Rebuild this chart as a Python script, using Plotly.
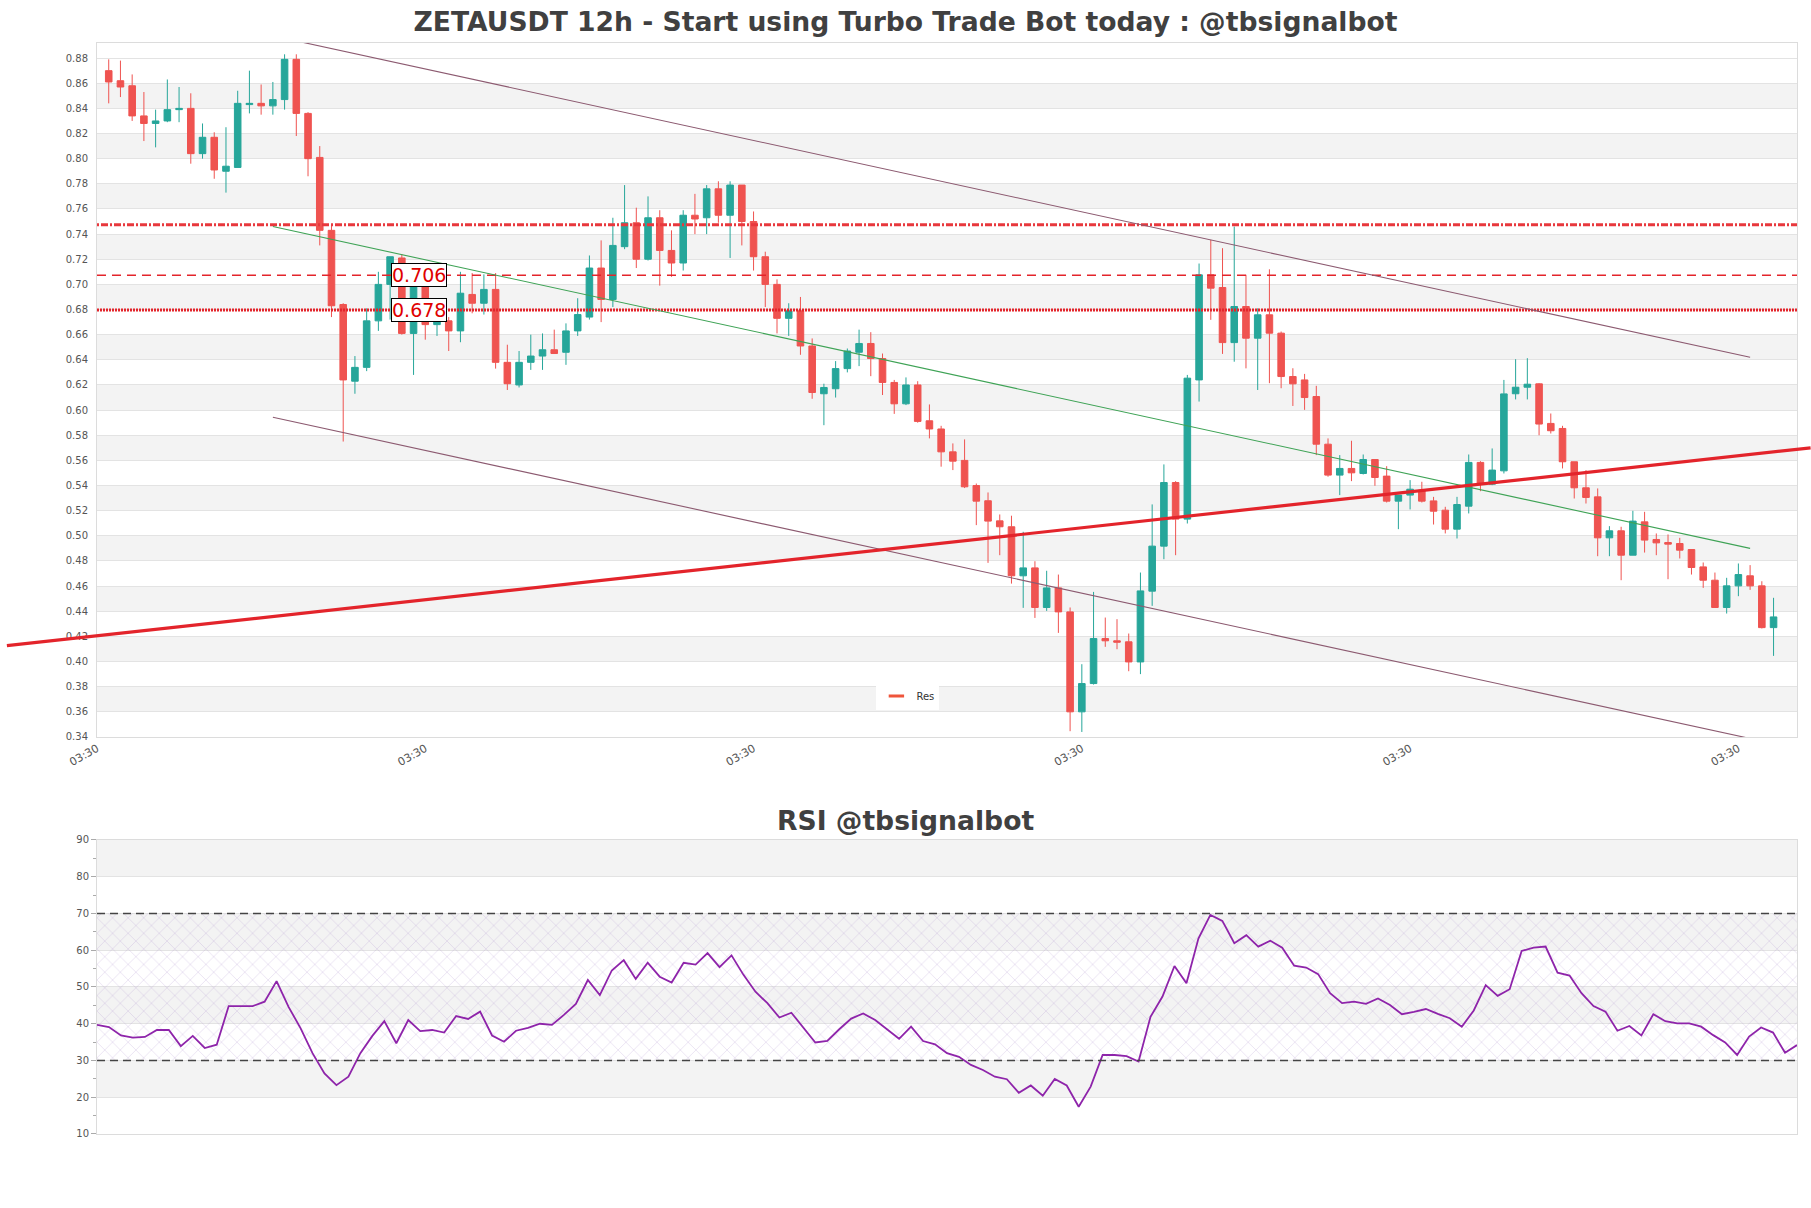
import numpy as np
import pandas as pd
import plotly.graph_objects as go

# ---------------- data ----------------
first_candle = pd.Timestamp("2024-12-10 15:30")
n_candles = 143
dates = pd.date_range(first_candle, periods=n_candles, freq="12h")

opens = [
    0.870, 0.862, 0.858, 0.834, 0.828, 0.830, 0.839, 0.840, 0.804, 0.817,
    0.790, 0.793, 0.843, 0.844, 0.842, 0.847, 0.879, 0.836, 0.801, 0.743,
    0.684, 0.623, 0.634, 0.671, 0.700, 0.721, 0.661, 0.705, 0.668, 0.671,
    0.663, 0.692, 0.685, 0.696, 0.638, 0.620, 0.638, 0.643, 0.648, 0.646,
    0.663, 0.674, 0.713, 0.688, 0.730, 0.749, 0.720, 0.753, 0.727, 0.717,
    0.755, 0.753, 0.776, 0.755, 0.779, 0.750, 0.722, 0.700, 0.673, 0.679,
    0.651, 0.613, 0.617, 0.633, 0.646, 0.653, 0.641, 0.622, 0.605, 0.620,
    0.5915, 0.585, 0.5668, 0.560, 0.540, 0.5279, 0.5119, 0.5072, 0.4682, 0.4745,
    0.443, 0.4586, 0.4395, 0.360, 0.3825, 0.4183, 0.4165, 0.4157, 0.3997, 0.456,
    0.4918, 0.5424, 0.5133, 0.624, 0.7076, 0.6975, 0.6537, 0.6824, 0.6572, 0.6758,
    0.6612, 0.6267, 0.624, 0.6108, 0.5729, 0.5483, 0.5536, 0.5496, 0.5607, 0.5475,
    0.5276, 0.5324, 0.5363, 0.5278, 0.5204, 0.5053, 0.5236, 0.5584, 0.5411, 0.5517,
    0.613, 0.6182, 0.6209, 0.5894, 0.5854, 0.5589, 0.5382, 0.531, 0.4984, 0.504,
    0.4846, 0.5111, 0.4971, 0.4947, 0.4939, 0.4891, 0.4753, 0.4647, 0.443, 0.4602,
    0.4682, 0.4602, 0.427,
]
highs = [
    0.879, 0.878, 0.867, 0.853, 0.839, 0.863, 0.857, 0.852, 0.828, 0.821,
    0.825, 0.854, 0.870, 0.859, 0.861, 0.883, 0.883, 0.837, 0.810, 0.747,
    0.685, 0.643, 0.681, 0.710, 0.722, 0.724, 0.712, 0.707, 0.676, 0.674,
    0.710, 0.709, 0.708, 0.709, 0.652, 0.647, 0.660, 0.661, 0.664, 0.669,
    0.689, 0.723, 0.735, 0.753, 0.779, 0.761, 0.770, 0.759, 0.743, 0.759,
    0.772, 0.779, 0.782, 0.782, 0.779, 0.758, 0.726, 0.704, 0.685, 0.690,
    0.657, 0.621, 0.639, 0.649, 0.664, 0.662, 0.645, 0.624, 0.626, 0.623,
    0.6045, 0.5875, 0.5735, 0.5767, 0.5416, 0.5345, 0.517, 0.516, 0.5032, 0.4798,
    0.4722, 0.4692, 0.443, 0.3979, 0.4554, 0.435, 0.4337, 0.4223, 0.4708, 0.525,
    0.5568, 0.5435, 0.628, 0.7166, 0.7354, 0.7288, 0.746, 0.7076, 0.681, 0.712,
    0.6625, 0.6333, 0.6288, 0.6193, 0.5775, 0.5642, 0.5756, 0.5647, 0.5607, 0.5554,
    0.5324, 0.5443, 0.543, 0.531, 0.5231, 0.531, 0.5647, 0.5594, 0.5695, 0.624,
    0.6405, 0.6413, 0.6214, 0.5973, 0.5875, 0.5589, 0.5523, 0.5377, 0.5077, 0.5072,
    0.5199, 0.5191, 0.5019, 0.5011, 0.4984, 0.4891, 0.4788, 0.4708, 0.4666, 0.478,
    0.4767, 0.4639, 0.4507,
]
lows = [
    0.844, 0.849, 0.830, 0.814, 0.809, 0.829, 0.829, 0.796, 0.800, 0.784,
    0.773, 0.793, 0.836, 0.835, 0.835, 0.839, 0.818, 0.786, 0.731, 0.674,
    0.575, 0.613, 0.631, 0.663, 0.672, 0.660, 0.628, 0.656, 0.659, 0.647,
    0.654, 0.677, 0.676, 0.633, 0.616, 0.618, 0.632, 0.632, 0.645, 0.636,
    0.659, 0.672, 0.670, 0.682, 0.728, 0.713, 0.719, 0.699, 0.706, 0.711,
    0.740, 0.740, 0.749, 0.721, 0.731, 0.711, 0.682, 0.661, 0.659, 0.644,
    0.609, 0.588, 0.610, 0.630, 0.635, 0.627, 0.612, 0.597, 0.604, 0.590,
    0.5775, 0.555, 0.5523, 0.538, 0.5085, 0.4785, 0.4846, 0.462, 0.4427, 0.4347,
    0.4403, 0.4228, 0.3446, 0.344, 0.3817, 0.4117, 0.4098, 0.3923, 0.390, 0.4443,
    0.4814, 0.4846, 0.5098, 0.6068, 0.6718, 0.6447, 0.6385, 0.6332, 0.616, 0.6214,
    0.6174, 0.6033, 0.6002, 0.5642, 0.547, 0.5324, 0.5435, 0.5488, 0.5398, 0.5265,
    0.5053, 0.521, 0.5265, 0.509, 0.5019, 0.4979, 0.5178, 0.5355, 0.5403, 0.5496,
    0.6085, 0.6085, 0.580, 0.5814, 0.5536, 0.5297, 0.5257, 0.4838, 0.4838, 0.4647,
    0.4846, 0.4867, 0.4846, 0.4655, 0.482, 0.4692, 0.4586, 0.443, 0.4382, 0.452,
    0.457, 0.4263, 0.4045,
]
closes = [
    0.861, 0.857, 0.834, 0.828, 0.830, 0.839, 0.840, 0.804, 0.817, 0.791,
    0.794, 0.844, 0.844, 0.842, 0.847, 0.879, 0.836, 0.800, 0.743, 0.683,
    0.624, 0.634, 0.671, 0.700, 0.722, 0.661, 0.700, 0.668, 0.671, 0.663,
    0.693, 0.685, 0.696, 0.638, 0.621, 0.638, 0.643, 0.648, 0.645, 0.663,
    0.676, 0.713, 0.688, 0.731, 0.749, 0.720, 0.753, 0.727, 0.717, 0.755,
    0.752, 0.776, 0.755, 0.779, 0.750, 0.722, 0.700, 0.673, 0.679, 0.651,
    0.614, 0.618, 0.633, 0.647, 0.653, 0.641, 0.622, 0.605, 0.620, 0.591,
    0.585, 0.5668, 0.5594, 0.539, 0.5276, 0.5117, 0.5072, 0.4682, 0.4745, 0.443,
    0.4586, 0.4395, 0.360, 0.3825, 0.4183, 0.4165, 0.4154, 0.3997, 0.4562, 0.4918,
    0.5424, 0.5133, 0.6254, 0.7076, 0.697, 0.6537, 0.6824, 0.6572, 0.6758, 0.6612,
    0.6267, 0.6209, 0.610, 0.5729, 0.5483, 0.5536, 0.5501, 0.5607, 0.5464, 0.5276,
    0.5324, 0.5371, 0.5276, 0.5196, 0.5053, 0.5249, 0.5584, 0.5411, 0.5523, 0.6129,
    0.6182, 0.6206, 0.5889, 0.5836, 0.5589, 0.5382, 0.5305, 0.4984, 0.504, 0.4846,
    0.5117, 0.4966, 0.4944, 0.4934, 0.4886, 0.4748, 0.4647, 0.443, 0.4602, 0.4692,
    0.4602, 0.427, 0.4355,
]

rsi = [
    39.7, 39.1, 36.8, 36.2, 36.4, 38.3, 38.3, 33.9, 36.7, 33.4,
    34.3, 44.8, 44.8, 44.8, 46.0, 51.6, 44.6, 38.8, 32.0, 26.5,
    23.3, 25.6, 32.0, 36.7, 40.7, 34.7, 41.0, 38.0, 38.3, 37.6,
    42.1, 41.3, 43.3, 36.8, 35.1, 38.1, 38.9, 40.0, 39.7, 42.4,
    45.4, 51.9, 47.8, 54.5, 57.3, 52.2, 56.6, 52.8, 51.2, 56.6,
    56.1, 59.2, 55.4, 58.6, 53.3, 48.7, 45.6, 41.7, 43.0, 38.9,
    34.9, 35.3, 38.5, 41.4, 42.8, 41.0, 38.5, 35.9, 39.2, 35.3,
    34.4, 32.0, 31.0, 28.8, 27.4, 25.6, 24.9, 21.2, 23.2, 20.4,
    25.0, 23.2, 17.4, 22.9, 31.5, 31.5, 31.2, 29.7, 41.9, 47.4,
    55.7, 51.0, 63.2, 69.6, 68.0, 61.9, 64.1, 61.0, 62.6, 60.7,
    55.8, 55.3, 53.5, 48.3, 45.6, 46.0, 45.4, 46.9, 45.1, 42.6,
    43.2, 44.0, 42.7, 41.5, 39.2, 43.6, 50.5, 47.6, 49.4, 59.8,
    60.7, 61.0, 53.9, 53.1, 48.3, 44.8, 43.3, 38.1, 39.4, 36.8,
    42.6, 40.7, 40.1, 40.1, 39.2, 36.9, 34.9, 31.5, 36.5, 39.0,
    37.6, 32.1, 34.2,
]

# channel (start/end candle index, prices)
channel_idx = [14, 140]
channel_upper = [0.8977, 0.642]
channel_mid = [0.746, 0.490]
channel_lower = [0.5943, 0.3388]

# "Res" trend line: price at left and right edges of plot area
res_edge_prices = [0.4205, 0.5688]

# horizontal levels
level_pattern = 0.7474
level_dash = 0.7073
level_dot = 0.6797
level_labels = ["0.706", "0.678"]

rsi_levels = [30, 70]

# ---------------- styling ----------------
GREEN = "#26a69a"
RED = "#ef5350"
LINE_RED = "#e3242b"
CH_COLOR = "#8c5a70"
MID_COLOR = "#3fa356"
TXT = "#555555"
FONT = "DejaVu Sans"

half = pd.Timedelta(hours=12)
x_main_range = [dates[0] - half, dates[-1] + half * 2]

fig = go.Figure()

fig.add_trace(go.Candlestick(
    x=dates, open=opens, high=highs, low=lows, close=closes,
    increasing=dict(line=dict(color=GREEN, width=1), fillcolor=GREEN),
    decreasing=dict(line=dict(color=RED, width=1), fillcolor=RED),
    whiskerwidth=0, showlegend=False, xaxis="x", yaxis="y", name="ZETAUSDT",
))

# legend entry for Res
fig.add_trace(go.Scatter(
    x=[None], y=[None], mode="markers", name="Res",
    marker=dict(symbol="line-ew-open", size=11, line=dict(width=3, color=LINE_RED)),
    xaxis="x", yaxis="y", showlegend=True,
))

# RSI hatch band
fig.add_trace(go.Scatter(
    x=[dates[0], dates[-1], dates[-1], dates[0], dates[0]],
    y=[rsi_levels[0], rsi_levels[0], rsi_levels[1], rsi_levels[1], rsi_levels[0]],
    fill="toself", fillcolor="rgba(0,0,0,0)", mode="lines", line=dict(width=0),
    fillpattern=dict(shape="x", fgcolor="rgba(165,130,200,0.75)", bgcolor="rgba(0,0,0,0)",
                     size=11, solidity=0.1, fillmode="overlay"),
    hoverinfo="skip", showlegend=False, xaxis="x2", yaxis="y2",
))

fig.add_trace(go.Scatter(
    x=dates, y=rsi, mode="lines", line=dict(color="#8e24aa", width=1.8),
    showlegend=False, xaxis="x2", yaxis="y2", name="RSI",
))

shapes = []
# alternating bands main
for lo in np.arange(0.36, 0.87, 0.04):
    shapes.append(dict(type="rect", xref="x domain", yref="y", x0=0, x1=1,
                       y0=lo, y1=lo + 0.02, fillcolor="#f3f3f3", line=dict(width=0),
                       layer="below"))
# alternating bands RSI
for lo in [20, 40, 60, 80]:
    shapes.append(dict(type="rect", xref="x2 domain", yref="y2", x0=0, x1=1,
                       y0=lo, y1=lo + 10, fillcolor="#f3f3f3", line=dict(width=0),
                       layer="below"))

# horizontal levels
shapes.append(dict(type="line", xref="x domain", yref="y", x0=0, x1=1,
                   y0=level_pattern, y1=level_pattern,
                   line=dict(color="#e8383d", width=3, dash="2px,2px,7px,2px")))
shapes.append(dict(type="line", xref="x domain", yref="y", x0=0, x1=1,
                   y0=level_dash, y1=level_dash,
                   line=dict(color=LINE_RED, width=1.5, dash="9px,6px")))
shapes.append(dict(type="line", xref="x domain", yref="y", x0=0, x1=1,
                   y0=level_dot, y1=level_dot,
                   line=dict(color=LINE_RED, width=3, dash="2px,1px")))

# channel lines
for vals, col in [(channel_upper, CH_COLOR), (channel_lower, CH_COLOR), (channel_mid, MID_COLOR)]:
    shapes.append(dict(type="line", xref="x", yref="y",
                       x0=dates[channel_idx[0]], x1=dates[channel_idx[1]],
                       y0=vals[0], y1=vals[1], line=dict(color=col, width=1.1)))

# Res line extended past the plot edges (paper x, data y)
p0, p1 = -0.053, 1.008
slope = res_edge_prices[1] - res_edge_prices[0]
shapes.append(dict(type="line", xref="paper", yref="y",
                   x0=p0, x1=p1,
                   y0=res_edge_prices[0] + slope * p0, y1=res_edge_prices[0] + slope * p1,
                   line=dict(color=LINE_RED, width=3.2)))

# RSI dashed levels
for lv in rsi_levels:
    shapes.append(dict(type="line", xref="x2 domain", yref="y2", x0=0, x1=1, y0=lv, y1=lv,
                       line=dict(color="#444444", width=1.3, dash="8px,5px")))

label_x = dates[26] + half * 0.5
annotations = [
    dict(x=label_x, y=level_dash, xref="x", yref="y", text=level_labels[0], showarrow=False,
         font=dict(family=FONT, size=19, color="#e00000"), bgcolor="white",
         bordercolor="black", borderwidth=1, borderpad=0),
    dict(x=label_x, y=level_dot, xref="x", yref="y", text=level_labels[1], showarrow=False,
         font=dict(family=FONT, size=19, color="#e00000"), bgcolor="white",
         bordercolor="black", borderwidth=1, borderpad=0),
    dict(x=0.4756, y=0.2878, xref="paper", yref="paper", text="RSI @tbsignalbot",
         showarrow=False, xanchor="center", yanchor="middle",
         font=dict(family=FONT, size=26.6, color="#404040", weight="bold")),
]

axis_common = dict(showline=True, linecolor="#dcdcdc", linewidth=1, mirror=True,
                   zeroline=False, tickfont=dict(family=FONT, size=10, color=TXT))

fig.update_layout(
    width=1811, height=1208,
    margin=dict(l=97, r=14, t=43, b=74),
    paper_bgcolor="white", plot_bgcolor="white",
    boxgap=0.2,
    title=dict(text="ZETAUSDT 12h - Start using Turbo Trade Bot today : @tbsignalbot",
               x=0.5, xref="container", xanchor="center",
               y=1 - 22 / 1208, yref="container", yanchor="middle",
               font=dict(family=FONT, size=26.6, color="#404040", weight="bold")),
    xaxis=dict(domain=[0, 1], anchor="y", type="date", range=x_main_range,
               rangeslider=dict(visible=False), showgrid=False,
               tick0=dates[0] - half, dtick=14 * 24 * 3600 * 1000, tickformat="%H:%M",
               tickangle=-30, ticks="", showline=True, linecolor="#dcdcdc", mirror=True,
               zeroline=False, tickfont=dict(family=FONT, size=11, color=TXT)),
    yaxis=dict(domain=[0.3639, 1], anchor="x", range=[0.34, 0.892], tick0=0.34, dtick=0.02,
               tickformat=".2f", showgrid=True, gridcolor="#e3e3e3", ticks="",
               ticklabelstandoff=6, **axis_common),
    xaxis2=dict(domain=[0, 1], anchor="y2", type="date", range=[dates[0], dates[-1]],
                showgrid=False, showticklabels=False, ticks="", **axis_common),
    yaxis2=dict(domain=[0, 0.2695], anchor="x2", range=[10, 90], tick0=10, dtick=10,
                showgrid=True, gridcolor="#e3e3e3", ticks="outside", ticklen=5,
                tickcolor="#aaaaaa",
                minor=dict(dtick=5, ticklen=3, ticks="outside", tickcolor="#aaaaaa", showgrid=False),
                **axis_common),
    legend=dict(x=0.477, y=0.4015, xanchor="center", yanchor="middle",
                bgcolor="white", borderwidth=0, font=dict(family=FONT, size=10, color="#333")),
    shapes=shapes,
    annotations=annotations,
)

fig.write_html("out.html")
